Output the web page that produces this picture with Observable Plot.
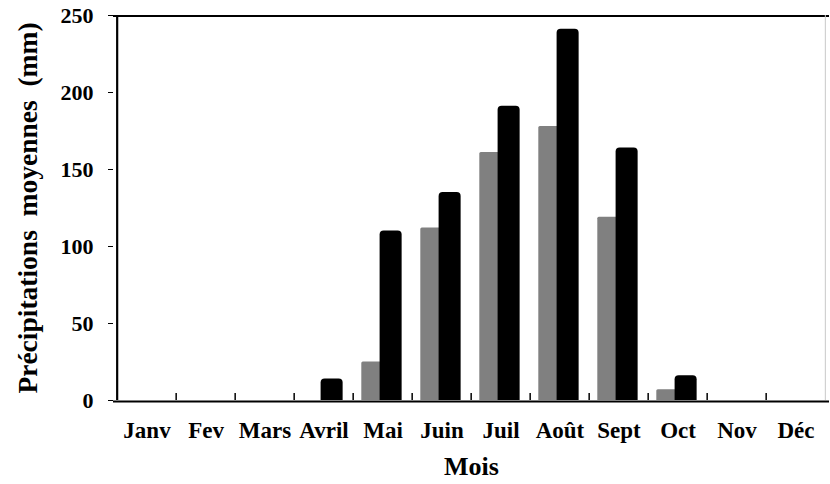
<!DOCTYPE html>
<html>
<head>
<meta charset="utf-8">
<script src="https://cdn.jsdelivr.net/npm/d3@7"></script>
<script src="https://cdn.jsdelivr.net/npm/@observablehq/plot@0.6"></script>
<style>
  html, body { margin: 0; padding: 0; background: #fff; }
</style>
</head>
<body>
<div id="chart"></div>
<script>
const months = ["Janv","Fev","Mars","Avril","Mai","Juin","Juil","Août","Sept","Oct","Nov","Déc"];
const seriesGray = [0, 0, 0, 0, 25, 112, 161, 178, 119, 7, 0, 0];
const seriesBlack = [0, 0, 0, 14, 110, 135, 191, 241, 164, 16, 0, 0];
const yTicks = [0, 50, 100, 150, 200, 250];
const yTitle = "Précipitations\u00a0\u00a0moyennes\u00a0\u00a0(mm)";
const xTitle = "Mois";

const grayData = months.map((m, i) => ({month: m, v: seriesGray[i]})).filter(d => d.v > 0);
const blackData = months.map((m, i) => ({month: m, v: seriesBlack[i]})).filter(d => d.v > 0);

const W = 830, H = 484;
const ML = 113, MR = 1, MT = 15, MB = 84;
const bw = (W - ML - MR) / months.length;
const font = "'Liberation Serif', 'Times New Roman', serif";

const chart = Plot.plot({
  width: W,
  height: H,
  marginLeft: ML,
  marginRight: MR,
  marginTop: MT,
  marginBottom: MB,
  style: {fontFamily: font, fontWeight: "bold", background: "#fff", color: "#000"},
  x: {type: "band", domain: months, padding: 0, label: null},
  y: {domain: [0, 250], label: null},
  marks: [
    Plot.barY(grayData, {x: "month", y: "v", fill: "#808080", insetLeft: 8.3, insetRight: bw - 31.3, rx: 1.5, insetBottom: -4, clip: "frame"}),
    Plot.barY(blackData, {x: "month", y: "v", fill: "#000", insetLeft: 26.6, insetRight: bw - 49.3, rx: 4, insetBottom: -8, clip: "frame"}),
    Plot.ruleX(months.slice(1), {x: d => d, y1: 0, y2: 7 / 1.54, dx: -bw / 2, stroke: "#000", strokeWidth: 1.5}),
    Plot.ruleY([250], {stroke: "#000", strokeWidth: 1.8, dy: 0.5}),
    Plot.ruleX([months[months.length - 1]], {dx: bw / 2 - 0.5, stroke: "#c8c8c8", strokeWidth: 1}),
    Plot.ruleY([0], {stroke: "#000", strokeWidth: 2.2, dy: 1}),
    Plot.ruleX([months[0]], {dx: -bw / 2, stroke: "#000", strokeWidth: 2.2}),
    Plot.axisY({ticks: yTicks, tickSize: 5, tickPadding: 15, fontSize: 22, fontWeight: "bold", fontFamily: font, stroke: "#000", label: null}),
    Plot.axisX({tickSize: 0, tickPadding: 21, fontSize: 23, fontWeight: "bold", fontFamily: font, label: null}),
    Plot.text([yTitle], {frameAnchor: "left", textAnchor: "middle", rotate: -90, dx: -85, fontSize: 27.5, fontWeight: "bold", fontFamily: font, fill: "#000"}),
    Plot.text([xTitle], {frameAnchor: "bottom", dy: 66, fontSize: 26, fontWeight: "bold", fontFamily: font, fill: "#000", lineAnchor: "middle"})
  ]
});
document.getElementById("chart").appendChild(chart);
</script>
</body>
</html>
